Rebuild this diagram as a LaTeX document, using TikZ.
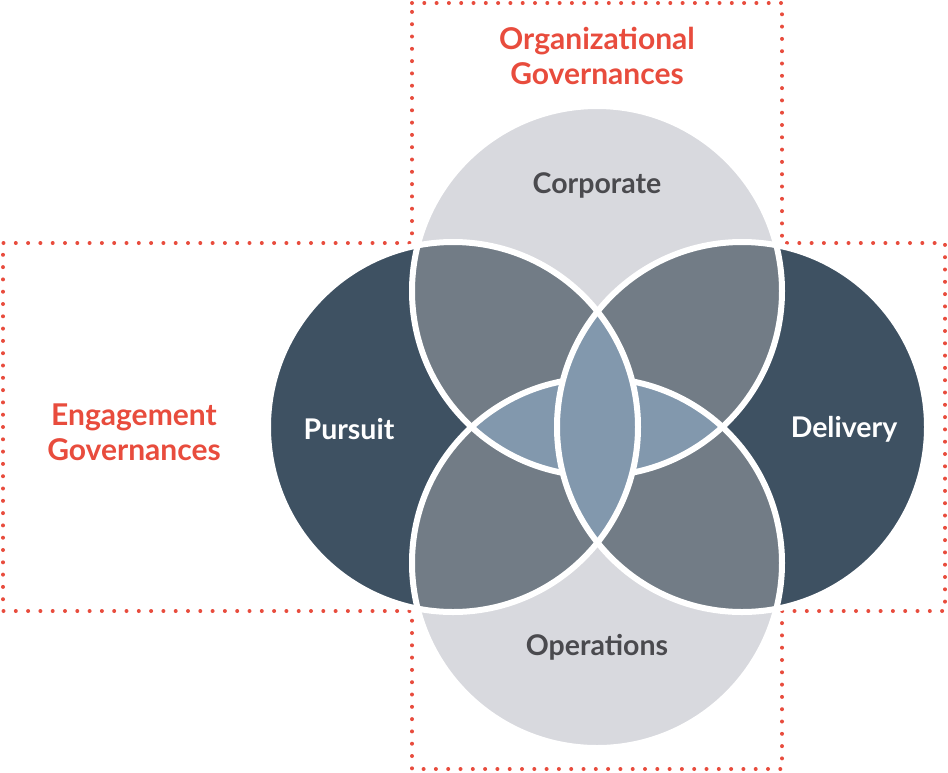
\documentclass[tikz,border=0pt]{standalone}
\usepackage{fontspec}
\setmainfont{Lato}
\definecolor{govred}{HTML}{E84C3D}
\definecolor{lightgrey}{HTML}{D8D9DE}
\definecolor{darkslate}{HTML}{3E5162}
\definecolor{midgrey}{HTML}{727C86}
\definecolor{bluegrey}{HTML}{8298AD}
\definecolor{labelgrey}{HTML}{4A4A4E}
\tikzset{
  govframe/.style={draw=govred, line width=4pt, line cap=round, dash pattern=on 0pt off 12.3pt},
  ring/.style={draw=white, line width=6pt},
  govlabel/.style={text=govred, font=\bfseries\fontsize{30}{35}\selectfont, align=center},
  inlabel/.style={font=\bfseries\fontsize{28.5}{32}\selectfont}
}
\begin{document}
\begin{tikzpicture}[x=1pt,y=-1pt]
\useasboundingbox (0,0) rectangle (948,772);
\coordinate (T) at (597,291);
\coordinate (B) at (597,563);
\coordinate (L) at (453,427);
\coordinate (R) at (742,427);

% dotted frame
\draw[govframe] (412,3) -- (782,3) -- (782,243) -- (945,243) -- (945,611)
  -- (782,611) -- (782,769) -- (412,769) -- (412,611) -- (3,611)
  -- (3,243) -- (412,243) -- cycle;

% circles
\fill[lightgrey] (T) circle[radius=185pt];
\fill[lightgrey] (B) circle[radius=185pt];
\fill[darkslate] (L) circle[radius=185pt];
\fill[darkslate] (R) circle[radius=185pt];

% overlaps
\begin{scope}
  \clip (T) circle[radius=185pt];
  \fill[midgrey] (L) circle[radius=185pt];
  \fill[midgrey] (R) circle[radius=185pt];
\end{scope}
\begin{scope}
  \clip (B) circle[radius=185pt];
  \fill[midgrey] (L) circle[radius=185pt];
  \fill[midgrey] (R) circle[radius=185pt];
\end{scope}
\begin{scope}
  \clip (T) circle[radius=185pt];
  \fill[bluegrey] (B) circle[radius=185pt];
\end{scope}
\foreach \c in {T,B}
  \draw[ring] (\c) circle[radius=185pt];

% middle lens
\begin{scope}
  \clip (L) circle[radius=185pt];
  \fill[bluegrey] (R) circle[radius=185pt];
\end{scope}
\foreach \c in {L,R}
  \draw[ring] (\c) circle[radius=185pt];

% labels
\node[govlabel] (org) at (597,56) {Organizational\\Governances};
\node[govlabel] (eng) at (134,432) {Engagement\\Governances};
\begin{scope}[every node/.style={inlabel}]
  \node[text=labelgrey] (corp) at (597,185) {Corporate};
  \node[text=labelgrey] (ops) at (597,647) {Operations};
  \node[text=white] (pur) at (349,429) {Pursuit};
  \node[text=white] (del) at (844,429) {Delivery};
\end{scope}
\end{tikzpicture}
\end{document}
